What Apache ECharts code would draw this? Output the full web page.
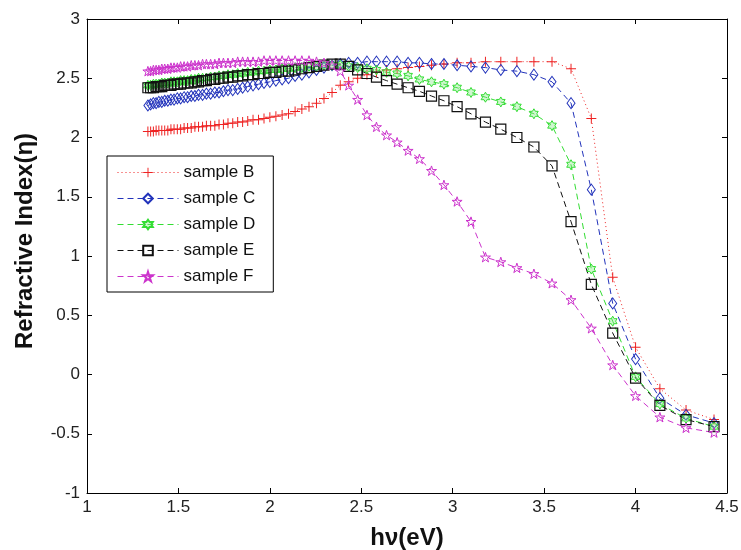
<!DOCTYPE html>
<html><head><meta charset="utf-8">
<script src="https://cdn.jsdelivr.net/npm/echarts@6/dist/echarts.min.js"></script>
<style>html,body{margin:0;padding:0;background:#fff}#c{width:741px;height:550px}</style>
</head><body><div id="c"></div>
<script>
// photon energy hν (eV) of each sample point
var energy = [1.333,1.348,1.363,1.378,1.393,1.409,1.425,1.442,1.459,1.476,1.494,1.512,1.531,1.550,1.570,1.590,1.610,1.632,1.653,1.676,1.699,1.722,1.746,1.771,1.797,1.824,1.851,1.879,1.908,1.938,1.968,2.000,2.033,2.067,2.102,2.138,2.175,2.214,2.255,2.296,2.340,2.385,2.431,2.480,2.531,2.583,2.638,2.696,2.756,2.818,2.884,2.952,3.024,3.100,3.179,3.263,3.351,3.444,3.543,3.647,3.758,3.875,4.000,4.133,4.276,4.429];
var sampleB = [2.05,2.05,2.05,2.06,2.06,2.06,2.06,2.06,2.07,2.07,2.07,2.07,2.08,2.08,2.08,2.09,2.09,2.09,2.10,2.10,2.10,2.11,2.11,2.12,2.12,2.13,2.13,2.14,2.15,2.15,2.16,2.17,2.18,2.19,2.20,2.22,2.24,2.26,2.29,2.33,2.38,2.44,2.47,2.50,2.53,2.55,2.57,2.58,2.59,2.60,2.61,2.62,2.63,2.63,2.64,2.64,2.64,2.64,2.64,2.58,2.16,0.82,0.23,-0.12,-0.30,-0.38];
var sampleC = [2.27,2.28,2.29,2.29,2.30,2.30,2.31,2.31,2.32,2.32,2.33,2.33,2.34,2.34,2.35,2.35,2.36,2.36,2.37,2.37,2.38,2.38,2.39,2.40,2.40,2.41,2.42,2.43,2.44,2.45,2.46,2.47,2.48,2.49,2.50,2.52,2.53,2.55,2.57,2.59,2.61,2.62,2.63,2.63,2.64,2.64,2.64,2.64,2.63,2.63,2.62,2.62,2.61,2.60,2.59,2.57,2.56,2.53,2.47,2.29,1.56,0.60,0.13,-0.20,-0.34,-0.41];
var sampleD = [2.44,2.44,2.45,2.45,2.45,2.46,2.46,2.46,2.47,2.47,2.47,2.48,2.48,2.48,2.49,2.49,2.50,2.50,2.50,2.51,2.51,2.52,2.52,2.53,2.53,2.54,2.54,2.55,2.55,2.56,2.56,2.57,2.57,2.58,2.58,2.59,2.59,2.60,2.60,2.61,2.61,2.61,2.60,2.59,2.58,2.57,2.55,2.54,2.52,2.49,2.47,2.45,2.42,2.38,2.34,2.30,2.26,2.20,2.10,1.77,0.89,0.45,-0.02,-0.25,-0.37,-0.44];
var sampleE = [2.42,2.42,2.42,2.43,2.43,2.43,2.44,2.44,2.44,2.45,2.45,2.45,2.46,2.46,2.46,2.47,2.47,2.48,2.48,2.49,2.49,2.50,2.50,2.51,2.51,2.52,2.52,2.53,2.53,2.54,2.54,2.55,2.55,2.56,2.56,2.57,2.58,2.59,2.60,2.61,2.62,2.62,2.60,2.57,2.54,2.51,2.48,2.45,2.42,2.39,2.35,2.31,2.26,2.20,2.13,2.07,2.00,1.92,1.76,1.29,0.76,0.35,-0.03,-0.26,-0.38,-0.44];
var sampleF = [2.56,2.56,2.57,2.57,2.57,2.58,2.58,2.58,2.59,2.59,2.59,2.60,2.60,2.60,2.61,2.61,2.61,2.62,2.62,2.62,2.62,2.63,2.63,2.63,2.63,2.64,2.64,2.64,2.64,2.64,2.65,2.65,2.65,2.65,2.65,2.65,2.65,2.65,2.64,2.63,2.61,2.56,2.44,2.32,2.19,2.09,2.02,1.96,1.89,1.82,1.72,1.60,1.46,1.29,0.99,0.95,0.90,0.85,0.77,0.63,0.39,0.08,-0.18,-0.36,-0.45,-0.49];
var seriesNames = ['sample B','sample C','sample D','sample E','sample F'];
var xTicks = [1,1.5,2,2.5,3,3.5,4,4.5];
var yTicks = [-1,-0.5,0,0.5,1,1.5,2,2.5,3];

var PLUS = 'path://M4.5,0H5.5V4.5H10V5.5H5.5V10H4.5V5.5H0V4.5H4.5Z';
var PENTA = 'path://M50,0L61.23,34.55L97.55,34.55L68.16,55.9L79.39,90.45L50,69.1L20.61,90.45L31.84,55.9L2.45,34.55L38.77,34.55Z';
var HEXA = 'path://M50,0L64.43,25L93.3,25L78.87,50L93.3,75L64.43,75L50,100L35.57,75L6.7,75L21.13,50L6.7,25L35.57,25Z';
var FONT = 'Liberation Sans, Arial, sans-serif';

function pairs(ys){ return energy.map(function(x,i){ return [x, ys[i]]; }); }

var styles = [
  {data:sampleB, color:'#ee2222', symbol:PLUS, size:10, dash:[1,3], fill:'#ee2222', bw:0},
  {data:sampleC, color:'#2233bb', symbol:'diamond', size:[8,11], dash:[6,4], fill:'rgba(255,255,255,0)', bw:1},
  {data:sampleD, color:'#33dd33', symbol:HEXA, size:10, dash:[6,4], fill:'rgba(120,230,120,0.35)', bw:1},
  {data:sampleE, color:'#111111', symbol:'rect', size:10, dash:[6,4], fill:'rgba(255,255,255,0)', bw:1.2},
  {data:sampleF, color:'#cc33cc', symbol:PENTA, size:10, dash:[6,4], fill:'rgba(255,255,255,0)', bw:1}
];

var series = styles.map(function(s, i){
  return {
    name: seriesNames[i], type:'line', data: pairs(s.data),
    symbol: s.symbol, symbolSize: s.size, symbolKeepAspect: true, showAllSymbol: true,
    lineStyle: {color: s.color, width: 1, type: s.dash},
    itemStyle: {color: s.fill, borderColor: s.color, borderWidth: s.bw},
    emphasis: {disabled: true}
  };
});

var axisCommon = {
  axisLine: {show: true, onZero: false, lineStyle: {color:'#000', width:1}},
  axisTick: {show: true, inside: true, length: 5, lineStyle: {color:'#000'}},
  splitLine: {show: false}
};

var chart = echarts.init(document.getElementById('c'), null, {renderer:'canvas'});
chart.setOption({
  animation: false,
  backgroundColor: '#fff',
  color: styles.map(function(s){return s.color;}),
  grid: {left: 87, right: 14, top: 19, bottom: 57, containLabel: false, outerBoundsMode: 'none'},
  legend: {
    orient: 'vertical', left: 107, top: 156,
    data: seriesNames,
    backgroundColor: '#fff', borderColor: '#000', borderWidth: 1, borderRadius: 0,
    padding: [8, 18, 7, 10], itemGap: 9, itemWidth: 61, itemHeight: 12,
    lineStyle: {width: 1},
    textStyle: {fontFamily: FONT, fontSize: 17, color: '#111'}
  },
  xAxis: [
    Object.assign({type:'value', position:'bottom', min: xTicks[0], max: xTicks[xTicks.length-1], interval: 0.5,
      name: 'hν(eV)', nameLocation: 'middle', nameGap: 33,
      nameTextStyle: {fontFamily:FONT, fontSize: 24, fontWeight:'bold', color:'#111'},
      axisLabel: {fontFamily:FONT, fontSize: 17, color:'#222', margin: 6}}, axisCommon),
    Object.assign({type:'value', position:'top', min: xTicks[0], max: xTicks[xTicks.length-1], interval: 0.5,
      axisLabel: {show:false}}, axisCommon)
  ],
  yAxis: [
    Object.assign({type:'value', position:'left', min: yTicks[0], max: yTicks[yTicks.length-1], interval: 0.5,
      name: 'Refractive Index(η)', nameLocation: 'middle', nameGap: 50, nameRotate: 90,
      nameTextStyle: {fontFamily:FONT, fontSize: 24, fontWeight:'bold', color:'#111', padding:[0,0,0,30]},
      axisLabel: {fontFamily:FONT, fontSize: 17, color:'#222', margin: 7}}, axisCommon),
    Object.assign({type:'value', position:'right', min: yTicks[0], max: yTicks[yTicks.length-1], interval: 0.5,
      axisLabel: {show:false}}, axisCommon)
  ],
  series: series
});
</script>
</body></html>
